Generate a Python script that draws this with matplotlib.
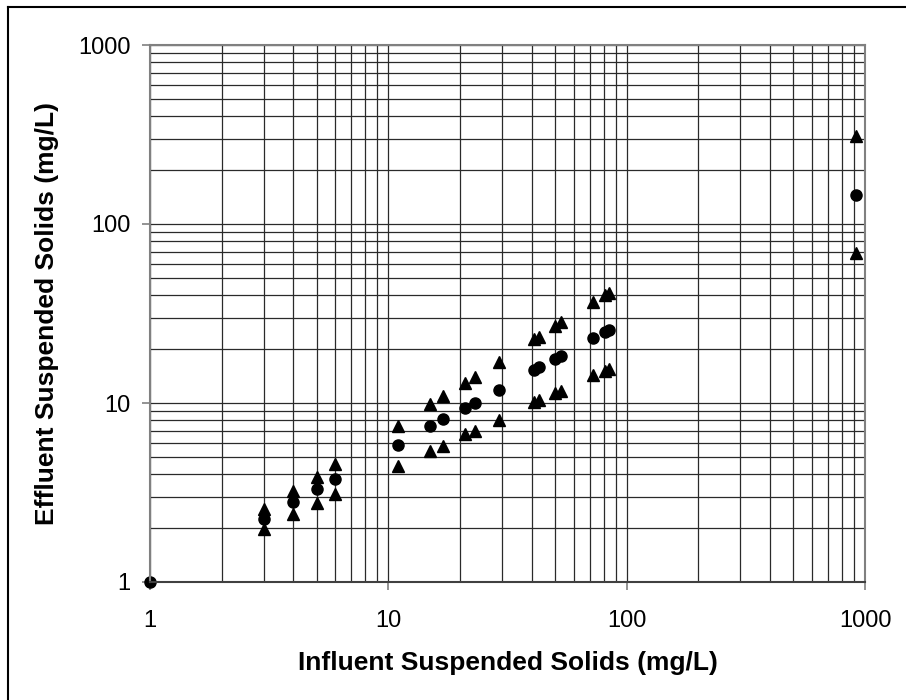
import matplotlib
matplotlib.use("Agg")
import matplotlib.pyplot as plt
from matplotlib.lines import Line2D
from matplotlib.ticker import LogLocator, NullFormatter, FixedLocator, FixedFormatter

plt.rcParams['font.family'] = ['Liberation Sans', 'DejaVu Sans']

# influent SS (mg/L) and effluent SS: mean, upper and lower bounds
influent = [1, 3, 4, 5, 6, 11, 15, 17, 21, 23, 29, 41, 43, 50, 53, 72, 81, 84, 920]
eff_mean = [1, 2.25, 2.79, 3.30, 3.76, 5.82, 7.44, 8.11, 9.34, 10.0, 11.8,
            15.3, 15.8, 17.6, 18.3, 23.2, 25.0, 25.6, 146]
eff_upper = [2.55, 3.22, 3.87, 4.56, 7.44, 9.87, 10.9, 13.0, 14.0, 16.9,
             22.8, 23.4, 26.9, 28.2, 36.5, 40.1, 41.2, 310]
eff_lower = [1.98, 2.39, 2.75, 3.09, 4.45, 5.39, 5.78, 6.68, 6.98, 8.0,
             10.1, 10.4, 11.3, 11.6, 14.3, 15.1, 15.5, 69]

tick_vals = [1, 10, 100, 1000]
tick_labels = ['1', '10', '100', '1000']

fig = plt.figure(figsize=(9.06, 7.0), dpi=100)
ax = fig.add_axes([150/906, 1 - 582/700, 715/906, 537/700])

ax.set_xscale('log')
ax.set_yscale('log')
ax.set_xlim(1, 1000)
ax.set_ylim(1, 1000)

for axis in (ax.xaxis, ax.yaxis):
    axis.set_major_locator(FixedLocator(tick_vals))
    axis.set_major_formatter(FixedFormatter(tick_labels))
    axis.set_minor_locator(LogLocator(base=10, subs=range(2, 10)))
    axis.set_minor_formatter(NullFormatter())

ax.grid(True, which='both', color='#2a2a2a', linewidth=0.9)
ax.set_axisbelow(True)

ax.plot(influent[1:], eff_upper, linestyle='none', marker='^', markersize=8,
        color='black', clip_on=False)
ax.plot(influent[1:], eff_lower, linestyle='none', marker='^', markersize=8,
        color='black', clip_on=False)
ax.plot(influent, eff_mean, linestyle='none', marker='o', markersize=8,
        color='black', clip_on=False)

for s in ax.spines.values():
    s.set_color('#808080')
    s.set_linewidth(1.5)
ax.spines['bottom'].set_color('#404040')

ax.tick_params(which='major', length=6, width=1.2, color='#808080',
               labelsize=17, pad=14)
ax.tick_params(axis='y', which='major', pad=8)
ax.tick_params(which='minor', length=0)

ax.set_xlabel('Influent Suspended Solids (mg/L)', fontsize=19,
              fontweight='bold', labelpad=14)
ax.set_ylabel('Effluent Suspended Solids (mg/L)', fontsize=19,
              fontweight='bold', labelpad=14)

# outer chart border (left and top edges visible)
fig.add_artist(Line2D([8/906, 8/906], [0, 1 - 7/700], color='black',
                      linewidth=1.5, transform=fig.transFigure))
fig.add_artist(Line2D([8/906, 1], [1 - 7/700, 1 - 7/700], color='black',
                      linewidth=1.5, transform=fig.transFigure))

fig.savefig('out.png', dpi=100)
